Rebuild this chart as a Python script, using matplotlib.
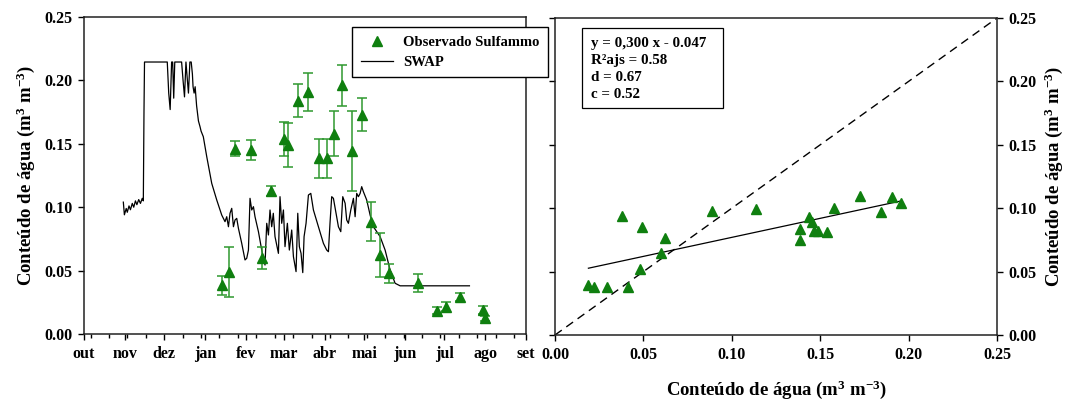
import numpy as np
import pandas as pd
import matplotlib
matplotlib.use("Agg")
import matplotlib.pyplot as plt
import matplotlib.dates as mdates
from matplotlib.lines import Line2D
from matplotlib.patches import Rectangle

plt.rcParams["font.family"] = ["Liberation Serif", "DejaVu Serif"]
plt.rcParams["font.weight"] = "bold"
plt.rcParams["mathtext.fontset"] = "custom"
plt.rcParams["mathtext.rm"] = "Liberation Serif:bold"
plt.rcParams["mathtext.it"] = "Liberation Serif:bold:italic"
plt.rcParams["mathtext.bf"] = "Liberation Serif:bold"

# ---------------- data ----------------
season_start = "2015-10-01"
season_end = "2016-09-01"
month_labels = ["out", "nov", "dez", "jan", "fev", "mar", "abr", "mai",
                "jun", "jul", "ago", "set"]

# Observed soil water content (Sulfammo) with standard deviation
obs_dates = ["2016-01-14", "2016-01-19", "2016-01-24", "2016-02-05", "2016-02-13",
             "2016-02-20", "2016-03-01", "2016-03-04", "2016-03-12", "2016-03-19",
             "2016-03-28", "2016-04-03", "2016-04-08", "2016-04-14", "2016-04-22",
             "2016-04-29", "2016-05-06", "2016-05-13", "2016-05-20", "2016-06-11",
             "2016-06-25", "2016-07-02", "2016-07-13", "2016-07-30", "2016-08-01"]
obs_theta = [0.0386, 0.049, 0.146, 0.145, 0.060, 0.113, 0.154, 0.149, 0.184, 0.191,
             0.1385, 0.1385, 0.158, 0.196, 0.144, 0.173, 0.0886, 0.0623, 0.0478, 0.040,
             0.0185, 0.0215, 0.029, 0.019, 0.0125]
obs_sd = [0.0075, 0.020, 0.006, 0.008, 0.0085, 0.004, 0.0135, 0.0175, 0.013, 0.015,
          0.0155, 0.0155, 0.0175, 0.0165, 0.0315, 0.013, 0.0155, 0.0175, 0.0075, 0.007,
          0.0025, 0.0035, 0.003, 0.003, 0.002]

# SWAP simulated water content (days after 1 Oct)
swap_day = [29.9, 30.7, 32.1, 32.9, 34.2, 35.3, 36.7, 37.8, 39.1, 40.2, 41.6, 42.9,
            44.3, 45.1, 45.6, 46.0, 63.3, 64.4, 65.5, 66.6, 67.4, 68.2, 69.0, 74.2,
            75.3, 76.4, 77.5, 78.6, 79.4, 80.5, 81.5, 82.4, 82.9, 83.7, 84.5, 85.6,
            87.0, 88.2, 89.0, 90.7, 93.3, 97.1, 100.9, 104.7, 107.2, 108.5, 109.8,
            111.0, 112.3, 113.6, 114.8, 116.1, 117.4, 119.9, 122.4, 123.7, 125.0,
            126.2, 127.5, 128.8, 130.0, 132.6, 135.1, 137.6, 138.9, 140.2, 141.4,
            142.7, 143.9, 145.2, 147.8, 149.0, 150.3, 151.6, 152.8, 154.6, 156.1,
            157.9, 159.2, 161.2, 162.5, 163.7, 165.0, 166.3, 167.3, 168.8, 170.6,
            172.4, 174.4, 178.2, 182.0, 184.5, 185.8, 187.0, 188.3, 189.6, 191.6,
            193.4, 195.2, 196.7, 198.5, 199.7, 201.0, 202.8, 204.8, 206.1, 207.3,
            208.6, 209.9, 211.1, 212.4, 214.9, 217.5, 220.0, 225.1, 228.9, 232.7,
            236.5, 240.3, 293.0]
swap_theta = [0.104, 0.094, 0.099, 0.096, 0.101, 0.098, 0.103, 0.100, 0.105, 0.102,
              0.106, 0.103, 0.107, 0.105, 0.175, 0.2145, 0.2145, 0.190, 0.177, 0.2145,
              0.2145, 0.186, 0.2145, 0.2145, 0.200, 0.187, 0.2145, 0.200, 0.190, 0.2145,
              0.2145, 0.205, 0.195, 0.190, 0.195, 0.180, 0.168, 0.1635, 0.160, 0.1556,
              0.1399, 0.1188, 0.1057, 0.0938, 0.0886, 0.0925, 0.0846, 0.0952, 0.0991,
              0.0846, 0.0899, 0.0912, 0.0833, 0.0715, 0.0584, 0.0597, 0.0662, 0.1070,
              0.0978, 0.1004, 0.0925, 0.0807, 0.0662, 0.0544, 0.0873, 0.0781, 0.0978,
              0.0846, 0.0952, 0.0768, 0.0636, 0.1083, 0.0873, 0.0978, 0.0689, 0.0873,
              0.0662, 0.0820, 0.0610, 0.0492, 0.0952, 0.0689, 0.0636, 0.0484, 0.0768,
              0.0873, 0.1096, 0.1109, 0.0978, 0.0846, 0.0715, 0.0662, 0.0649, 0.0873,
              0.1083, 0.1070, 0.0952, 0.0846, 0.0807, 0.1083, 0.1031, 0.0899, 0.0873,
              0.0978, 0.1070, 0.0925, 0.1109, 0.1083, 0.1109, 0.1162, 0.1122, 0.1057,
              0.0938, 0.0846, 0.0768, 0.0662, 0.0505, 0.0400, 0.038, 0.038]

# Observed vs simulated pairs
scatter_obs = [0.0189, 0.0221, 0.0292, 0.0411, 0.0381, 0.0494, 0.0481, 0.0622, 0.0600,
               0.0886, 0.1137, 0.1386, 0.1386, 0.1439, 0.1452, 0.1467, 0.1490, 0.1540,
               0.1580, 0.1725, 0.1842, 0.1904, 0.1957]
scatter_sim = [0.0394, 0.0381, 0.0381, 0.0381, 0.0941, 0.0854, 0.0518, 0.0768, 0.0644,
               0.0980, 0.0991, 0.0836, 0.0749, 0.0933, 0.0894, 0.0823, 0.0823, 0.0815,
               0.1004, 0.1096, 0.0973, 0.1086, 0.1044]
fit_slope = 0.300
fit_intercept = 0.047
stats_lines = ["y = 0,300 x - 0.047", "R\u00b2ajs = 0.58", "d = 0.67", "c = 0.52"]

# ---------------- figure ----------------
W, H = 1072, 404
fig = plt.figure(figsize=(W / 100, H / 100), dpi=100)
ax1 = fig.add_axes([84 / W, 70 / H, 442 / W, 317 / H])
ax2 = fig.add_axes([555 / W, 69 / H, 442 / W, 317 / H])

green = "#0f7f0f"
err_green = "#2f992f"
tick_fs = 11.5
label_fs = 13.5

start = pd.Timestamp(season_start)
t_obs = mdates.date2num(pd.to_datetime(obs_dates))
t_swap = mdates.date2num(start + pd.to_timedelta(swap_day, unit="D"))

ax1.plot(t_swap, swap_theta, color="black", lw=0.9, zorder=2)
ax1.errorbar(t_obs, obs_theta, yerr=obs_sd, fmt="none", ecolor=err_green,
             elinewidth=1.1, capsize=3.5, capthick=1.1, zorder=3)
ax1.plot(t_obs, obs_theta, linestyle="none", marker="^", ms=6.5, color=green,
         zorder=4)

month_ticks = pd.date_range(season_start, season_end, freq="MS")
ax1.set_xlim(mdates.date2num(start), mdates.date2num(pd.Timestamp(season_end)))
ax1.set_xticks(mdates.date2num(month_ticks))
ax1.set_xticklabels(month_labels)
minor = pd.date_range(start + pd.Timedelta(days=5), season_end, freq="14D")
ax1.set_xticks(mdates.date2num(minor), minor=True)
ax1.set_ylim(0, 0.25)
ax1.set_yticks(np.arange(0, 0.251, 0.05))
ax1.set_yticklabels([f"{v:.2f}" for v in np.arange(0, 0.251, 0.05)])
ax1.set_ylabel("Conte\u00fado de \u00e1gua (m$^{3}$ m$^{-3}$)", fontsize=label_fs,
               fontweight="bold", labelpad=5)
ax1.tick_params(axis="both", which="major", direction="out", length=4.5, width=1,
                labelsize=tick_fs, pad=4)
ax1.tick_params(axis="x", which="minor", direction="out", length=3, width=1)

legend_handles = [
    Line2D([], [], linestyle="none", marker="^", ms=6.5, color=green),
    Line2D([], [], color="black", lw=0.9),
]
leg = ax1.legend(legend_handles, ["Observado Sulfammo", "SWAP"],
                 loc="upper left", bbox_to_anchor=(352 / W, 1 - 27 / H),
                 bbox_transform=fig.transFigure, borderaxespad=0, fancybox=False,
                 framealpha=1, edgecolor="black", handlelength=2.2,
                 handletextpad=0.7, borderpad=0.6, labelspacing=0.45,
                 prop={"weight": "bold", "size": 10.5})
leg.get_frame().set_linewidth(1.0)
leg.set_zorder(10)

# observed vs simulated
ax2.plot([0, 0.25], [0, 0.25], color="black", lw=1.0, ls=(0, (6, 4)), zorder=1)
xfit = np.array([min(scatter_obs), max(scatter_obs)])
ax2.plot(xfit, fit_slope * xfit + fit_intercept, color="black", lw=0.9, zorder=2)
ax2.plot(scatter_obs, scatter_sim, linestyle="none", marker="^", ms=6.5,
         color=green, zorder=3)
ax2.set_xlim(0, 0.25)
ax2.set_ylim(0, 0.25)
ticks = np.arange(0, 0.251, 0.05)
ax2.set_xticks(ticks)
ax2.set_xticklabels([f"{v:.2f}" for v in ticks])
ax2.set_yticks(ticks)
ax2.set_yticklabels([f"{v:.2f}" for v in ticks])
ax2.yaxis.tick_right()
ax2.yaxis.set_label_position("right")
ax2.tick_params(axis="y", which="major", left=True, right=True, labelleft=False,
                labelright=True)
ax2.tick_params(axis="both", which="major", direction="out", length=4.5, width=1,
                labelsize=tick_fs, pad=4)
ax2.set_xlabel("Conte\u00fado de \u00e1gua (m$^{3}$ m$^{-3}$)", fontsize=label_fs,
               fontweight="bold", labelpad=11)
ax2.set_ylabel("Conte\u00fado de \u00e1gua (m$^{3}$ m$^{-3}$)", fontsize=label_fs,
               fontweight="bold", labelpad=4)

# statistics box
ax2.add_patch(Rectangle((27 / 442, (335 - 108) / 317), 141 / 442, 80 / 317,
                        transform=ax2.transAxes, fill=False, edgecolor="black",
                        lw=0.9, zorder=5))
line_y = [44, 61, 78, 95]
for txt, yy in zip(stats_lines, line_y):
    ax2.text((591 - 555) / 442, (335 - yy) / 317, txt, transform=ax2.transAxes,
             ha="left", va="center", fontsize=10.8, fontweight="bold", zorder=6)

for ax in (ax1, ax2):
    for sp in ax.spines.values():
        sp.set_linewidth(1.1)
        sp.set_color("#222222")

fig.savefig("out.png", dpi=100)
